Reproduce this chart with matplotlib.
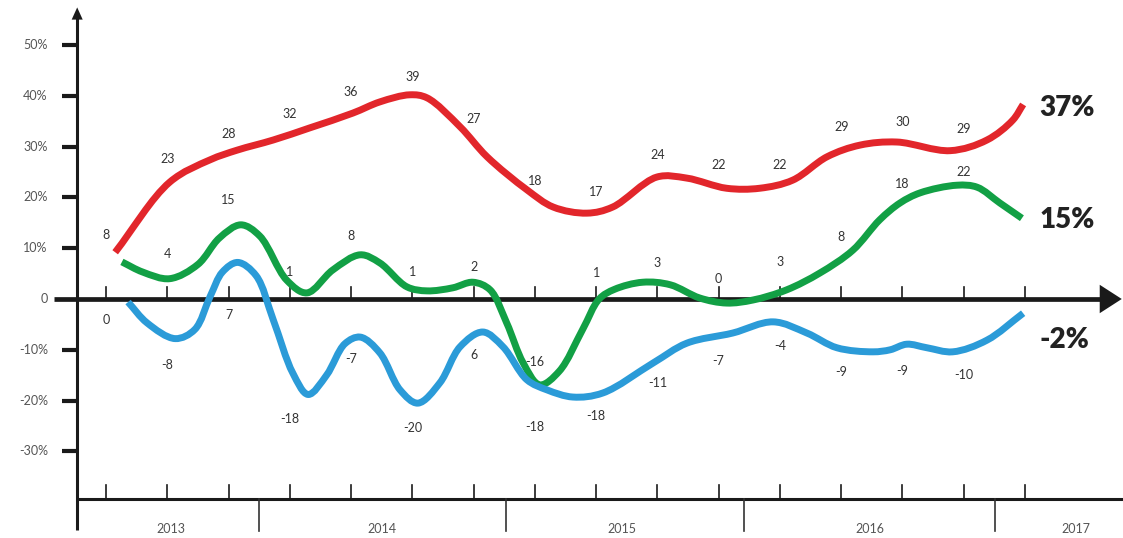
"""Three series over 2013-2017, drawn with hand-made axes."""

import numpy as np
import matplotlib
matplotlib.use("Agg")
import matplotlib.pyplot as plt
from matplotlib.path import Path
from matplotlib.patches import PathPatch, Polygon

# --- data -----------------------------------------------------------------
# curve shape: (period index, percent)
red_x = [0.15, 1.04, 1.70, 2.14, 2.73, 3.33, 4.03, 4.47, 4.96, 5.24, 5.78, 6.22, 6.87,
         7.30, 7.85, 8.27, 8.99, 9.48, 10.13, 10.67, 11.21, 11.77, 12.31, 12.91, 13.78,
         14.38, 14.80, 14.97]
red_y = [9.2, 23.0, 27.4, 29.3, 31.3, 33.7, 36.6, 38.8, 40.2, 39.6, 33.9, 28.0, 21.5,
         18.1, 16.9, 18.1, 24.0, 23.8, 21.8, 21.8, 23.4, 28.0, 30.3, 30.9, 29.2,
         31.3, 35.2, 38.3]

green_x = [0.26, 0.60, 1.04, 1.50, 1.85, 2.20, 2.51, 2.95, 3.28, 3.70, 4.15, 4.47, 4.91,
           5.24, 5.66, 5.99, 6.27, 6.54, 6.81, 7.08, 7.40, 7.78, 8.05, 8.30, 8.76, 9.21,
           9.69, 10.13, 10.56, 11.11, 11.65, 12.19, 12.63, 12.96, 13.29, 13.89, 14.22,
           14.59, 14.95]
green_y = [7.3, 5.3, 4.0, 6.8, 12.0, 14.6, 12.4, 3.7, 1.2, 5.7, 8.7, 7.1, 2.4,
           1.6, 2.2, 3.3, 1.8, -4.7, -12.6, -16.9, -14.2, -6.0, 0.0, 1.9, 3.3, 2.8,
           0.2, -0.8, -0.2, 1.8, 5.1, 9.6, 15.6, 18.9, 20.9, 22.4, 22.0,
           18.9, 15.9]

blue_x = [0.36, 0.67, 1.13, 1.45, 1.70, 1.90, 2.15, 2.45, 2.73, 3.05, 3.30, 3.60, 3.90,
          4.15, 4.47, 4.80, 5.09, 5.45, 5.78, 6.15, 6.48, 6.87, 7.20, 7.62, 8.11, 8.93,
          9.48, 10.23, 10.89, 11.44, 11.93, 12.52, 12.80, 13.07, 13.40, 13.82, 14.38, 14.97]
blue_y = [-0.6, -4.7, -7.8, -6.0, 0.5, 5.3, 7.2, 4.6, -4.1, -14.6, -18.8, -15.0, -8.8,
          -7.5, -10.6, -17.9, -20.5, -16.5, -9.4, -6.5, -9.4, -15.9, -17.9, -19.3, -18.5, -12.6,
          -8.7, -6.7, -4.5, -6.7, -9.6, -10.4, -10.0, -8.9, -9.6, -10.4, -8.1, -2.8]

# printed values per period
red_labels = [8, 23, 28, 32, 36, 39, 27, 18, 17, 24, 22, 22, 29, 30, 29]
green_labels = [4, 15, 1, 8, 1, 2, -16, 1, 3, 0, 3, 8, 18, 22]       # periods 1..14
blue_labels = [0, -8, 7, -18, -7, -20, 6, -18, -18, -11, -7, -4, -9, -9, -10]
final_values = [37, 15, -2]

years = ["2013", "2014", "2015", "2016", "2017"]
y_ticks = [50, 40, 30, 20, 10, 0, -10, -20, -30]

# --- layout (text placement only) -------------------------------------------
red_label_pos = [12.6, 27.6, 32.5, 36.4, 40.7, 43.7, 35.4, 23.2, 21.1, 28.3, 26.4, 26.4, 33.9, 34.8, 33.5]
green_label_pos = [8.9, 19.5, 5.3, 12.4, 5.3, 6.3, -12.4, 5.1, 7.1, 3.9, 7.3, 12.2, 22.6, 25.0]
blue_label_pos = [-4.1, -13.0, -3.1, -23.6, -11.8, -25.4, -11.0, -25.2, -23.0, -16.5, -12.2, -9.3, -14.4, -14.2, -15.0]
final_pos = [37.6, 15.6, -8.1]
year_pos = [1.06, 4.5, 8.42, 12.47, 15.83]
year_breaks = [2.5, 6.53, 10.41, 14.51]

RED, GREEN, BLUE = "#e2262b", "#12a045", "#2b9bd8"
DARK = "#1a1a1a"
FONT = "Lato"

n_periods = 16
y_axis_x = -0.47
bottom_y = -39.4
PX_X, PX_Y = 61.27, 5.08   # pixels per data unit, used only to smooth evenly


def smooth_path(xs, ys, alpha=0.5):
    """Centripetal Catmull-Rom through the points, given to matplotlib as Beziers."""
    scale = np.array([PX_X, PX_Y])
    pts = np.column_stack([xs, ys]) * scale
    p = np.vstack([2 * pts[0] - pts[1], pts, 2 * pts[-1] - pts[-2]])
    verts = [pts[0]]
    codes = [Path.MOVETO]
    for k in range(1, len(p) - 2):
        p0, p1, p2, p3 = p[k - 1], p[k], p[k + 1], p[k + 2]
        d0 = max(np.linalg.norm(p1 - p0) ** alpha, 1e-6)
        d1 = max(np.linalg.norm(p2 - p1) ** alpha, 1e-6)
        d2 = max(np.linalg.norm(p3 - p2) ** alpha, 1e-6)
        m1 = (p1 - p0) / d0 - (p2 - p0) / (d0 + d1) + (p2 - p1) / d1
        m2 = (p2 - p1) / d1 - (p3 - p1) / (d1 + d2) + (p3 - p2) / d2
        verts += [p1 + m1 * d1 / 3, p2 - m2 * d1 / 3, p2]
        codes += [Path.CURVE4] * 3
    return Path(np.array(verts) / scale, codes)


fig = plt.figure(figsize=(11.23, 5.38), dpi=100)
ax = fig.add_axes([0, 0, 1, 1])
ax.set_xlim(-1.73, 16.60)
ax.set_ylim(-47.05, 58.86)
ax.axis("off")

# y axis with arrow on top
ax.plot([y_axis_x, y_axis_x], [-45.5, 55.5], color=DARK, lw=2.2, solid_capstyle="butt")
ax.add_patch(Polygon([[y_axis_x - 0.09, 55.0], [y_axis_x + 0.09, 55.0], [y_axis_x, 57.4]],
                     closed=True, color=DARK, lw=0))
for v in y_ticks:
    if v != 0:
        ax.plot([-0.72, y_axis_x], [v, v], color=DARK, lw=3, solid_capstyle="butt")
    ax.text(-0.95, v, f"{v}%" if v != 0 else "0", ha="right", va="center",
            fontsize=9, color="#555555", family=FONT)

# zero line with arrow
ax.plot([-0.85, 16.25], [0, 0], color=DARK, lw=3.4, solid_capstyle="butt")
ax.add_patch(Polygon([[16.22, 2.8], [16.22, -2.8], [16.58, 0]], closed=True, color=DARK, lw=0))
for i in range(n_periods):
    ax.plot([i, i], [0, 2.4], color=DARK, lw=1.2)

# bottom time axis
ax.plot([y_axis_x, 16.6], [bottom_y, bottom_y], color=DARK, lw=2.2, solid_capstyle="butt")
for i in range(n_periods):
    ax.plot([i, i], [bottom_y, bottom_y + 2.8], color=DARK, lw=1.2)
for b in year_breaks:
    ax.plot([b, b], [bottom_y, -45.7], color="#333333", lw=1.2)
for yr, xp in zip(years, year_pos):
    ax.text(xp, -45.3, yr, ha="center", va="center", fontsize=9, color="#555555", family=FONT)

# series
for xs, ys, col in [(red_x, red_y, RED), (green_x, green_y, GREEN), (blue_x, blue_y, BLUE)]:
    ax.add_patch(PathPatch(smooth_path(xs, ys), facecolor="none", edgecolor=col, lw=5,
                           capstyle="butt", joinstyle="round", zorder=3))

# value labels
for i, (val, pos) in enumerate(zip(red_labels, red_label_pos)):
    ax.text(i, pos, str(val), ha="center", va="center", fontsize=9, color="#333333", family=FONT)
for i, (val, pos) in enumerate(zip(green_labels, green_label_pos), start=1):
    ax.text(i, pos, str(val), ha="center", va="center", fontsize=9, color="#333333", family=FONT)
for i, (val, pos) in enumerate(zip(blue_labels, blue_label_pos)):
    ax.text(i, pos, str(val), ha="center", va="center", fontsize=9, color="#333333", family=FONT)

for val, pos in zip(final_values, final_pos):
    ax.text(15.24, pos, f"{val}%", ha="left", va="center", fontsize=20, fontweight="heavy",
            color="#222222", family=FONT)

fig.savefig("out.png", dpi=100)
plt.close(fig)
